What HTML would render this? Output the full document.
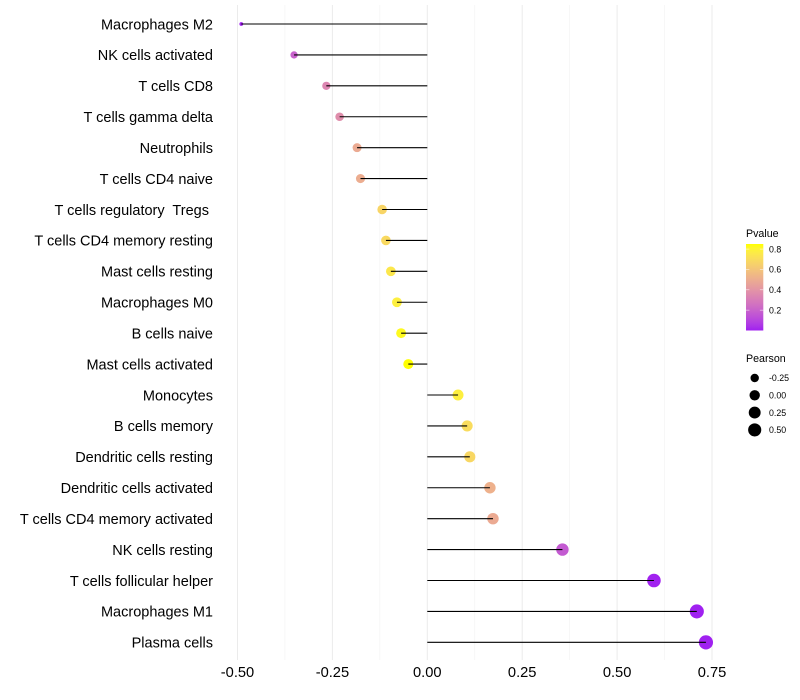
<!DOCTYPE html>
<html>
<head>
<meta charset="utf-8">
<style>
html,body{margin:0;padding:0;background:#fff;}
svg{display:block;font-family:"Liberation Sans",Arial,sans-serif;}
</style>
</head>
<body>
<svg id="chart" width="800" height="700" viewBox="0 0 800 700" xmlns="http://www.w3.org/2000/svg"></svg>
<script>
const categories = ["Macrophages M2","NK cells activated","T cells CD8","T cells gamma delta","Neutrophils","T cells CD4 naive","T cells regulatory  Tregs ","T cells CD4 memory resting","Mast cells resting","Macrophages M0","B cells naive","Mast cells activated","Monocytes","B cells memory","Dendritic cells resting","Dendritic cells activated","T cells CD4 memory activated","NK cells resting","T cells follicular helper","Macrophages M1","Plasma cells"];
const pearson = [-0.49,-0.351,-0.266,-0.231,-0.185,-0.176,-0.119,-0.109,-0.096,-0.08,-0.069,-0.05,0.081,0.105,0.112,0.165,0.173,0.356,0.597,0.71,0.734];
const pvalue = [0.001,0.2,0.34,0.37,0.49,0.5,0.67,0.69,0.75,0.78,0.83,0.85,0.78,0.7,0.68,0.52,0.49,0.17,0.004,0.001,0.001];
const xTicks = [-0.5,-0.25,0,0.25,0.5,0.75];
const xTickLabels = ["-0.50","-0.25","0.00","0.25","0.50","0.75"];
const xMinorTicks = [-0.375,-0.125,0.125,0.375,0.625];
const pvalueBreaks = [0.2,0.4,0.6,0.8];
const pvalueBreakLabels = ["0.2","0.4","0.6","0.8"];
const pearsonBreaks = [-0.25,0,0.25,0.5];
const pearsonBreakLabels = ["-0.25","0.00","0.25","0.50"];

const svg = document.getElementById('chart');
const NS = 'http://www.w3.org/2000/svg';
function mk(tag, attrs, txt) {
  const e = document.createElementNS(NS, tag);
  for (const k in attrs) e.setAttribute(k, attrs[k]);
  if (txt !== undefined) { e.textContent = txt; e.setAttribute('xml:space', 'preserve'); e.style.whiteSpace = 'pre'; }
  svg.appendChild(e);
  return e;
}

/* axis functions */
const X0 = 427.3, XK = 379.6;
const xScale = v => X0 + XK * v;
const Y0 = 24, YSTEP = 30.917;
const yScale = i => Y0 + YSTEP * i;
const sizeMin = Math.min(...pearson), sizeMax = Math.max(...pearson);
const rScale = v => 1.9 + 5.2 * Math.sqrt(Math.max(0, (v - sizeMin) / (sizeMax - sizeMin)));

/* colour scale: purple -> yellow, interpolated in Lab */
const pMax = 0.85;
function srgbToLab(c) {
  const l = c.map(v => { v /= 255; return v > 0.04045 ? Math.pow((v + 0.055) / 1.055, 2.4) : v / 12.92; });
  const X = (0.4124 * l[0] + 0.3576 * l[1] + 0.1805 * l[2]) / 0.95047;
  const Y = 0.2126 * l[0] + 0.7152 * l[1] + 0.0722 * l[2];
  const Z = (0.0193 * l[0] + 0.1192 * l[1] + 0.9505 * l[2]) / 1.08883;
  const f = t => t > 0.008856 ? Math.cbrt(t) : 7.787 * t + 16 / 116;
  return [116 * f(Y) - 16, 500 * (f(X) - f(Y)), 200 * (f(Y) - f(Z))];
}
function labToHex(lab) {
  const fy = (lab[0] + 16) / 116, fx = fy + lab[1] / 500, fz = fy - lab[2] / 200;
  const g = t => t * t * t > 0.008856 ? t * t * t : (t - 16 / 116) / 7.787;
  const X = g(fx) * 0.95047, Y = g(fy), Z = g(fz) * 1.08883;
  const rgb = [3.2406 * X - 1.5372 * Y - 0.4986 * Z, -0.9689 * X + 1.8758 * Y + 0.0415 * Z, 0.0557 * X - 0.204 * Y + 1.057 * Z];
  return '#' + rgb.map(v => {
    v = Math.min(1, Math.max(0, v));
    v = v > 0.0031308 ? 1.055 * Math.pow(v, 1 / 2.4) - 0.055 : 12.92 * v;
    return Math.round(v * 255).toString(16).padStart(2, '0');
  }).join('');
}
const labLow = srgbToLab([160, 32, 240]), labHigh = srgbToLab([255, 255, 0]);
function colorScale(p) {
  const t = Math.min(1, Math.max(0, p / pMax));
  return labToHex(labLow.map((v, i) => v + (labHigh[i] - v) * t));
}

/* grid */
xMinorTicks.forEach(v => {
  const g = mk('line', {x1: xScale(v), x2: xScale(v), y1: 5, y2: 660, stroke: '#f2f2f2', 'stroke-width': 0.6});
  
  
});
xTicks.forEach(v => {
  const g = mk('line', {x1: xScale(v), x2: xScale(v), y1: 5, y2: 660, stroke: '#ebebeb', 'stroke-width': 1});
  
  
});

/* points first, segments on top */
categories.forEach((c, i) => {
  const d = mk('circle', {cx: xScale(pearson[i]), cy: yScale(i), r: rScale(pearson[i]), fill: colorScale(pvalue[i])});
  
  
});
categories.forEach((c, i) => {
  const s = mk('line', {x1: X0, x2: xScale(pearson[i]), y1: yScale(i), y2: yScale(i), stroke: '#000', 'stroke-width': 1.07});
  
  
});

/* category labels */
categories.forEach((c, i) => {
  const t = mk('text', {x: 213, y: yScale(i) + 5.3, 'text-anchor': 'end', 'font-size': 14.5, fill: '#000'}, c);
  
  
});

/* x tick labels */
xTicks.forEach((v, i) => {
  const t = mk('text', {x: xScale(v), y: 677, 'text-anchor': 'middle', 'font-size': 14.67, fill: '#000'}, xTickLabels[i]);
  
  
});

/* colour legend */
const barX = 746, barW = 17.3, barTop = 244, barBottom = 330.5;
const pY = p => barBottom - (p / pMax) * (barBottom - barTop);
const pvTitle = mk('text', {x: 746, y: 237, 'font-size': 10.67, fill: '#000'}, 'Pvalue');


const defs = mk('defs', {});
const grad = document.createElementNS(NS, 'linearGradient');
grad.setAttribute('id', 'pg');
grad.setAttribute('x1', '0'); grad.setAttribute('x2', '0'); grad.setAttribute('y1', '1'); grad.setAttribute('y2', '0');
for (let k = 0; k <= 20; k++) {
  const st = document.createElementNS(NS, 'stop');
  st.setAttribute('offset', k / 20);
  st.setAttribute('stop-color', colorScale(pMax * k / 20));
  grad.appendChild(st);
}
defs.appendChild(grad);
const bar = mk('rect', {x: barX, y: barTop, width: barW, height: barBottom - barTop, fill: 'url(#pg)'});


pvalueBreaks.forEach((p, i) => {
  const y = pY(p);
  const a = mk('line', {x1: barX, x2: barX + 3.4, y1: y, y2: y, stroke: '#fff', 'stroke-width': 0.6, 'stroke-opacity': 0.8});
  
  
  const b = mk('line', {x1: barX + barW - 3.4, x2: barX + barW, y1: y, y2: y, stroke: '#fff', 'stroke-width': 0.6, 'stroke-opacity': 0.8});
  
  
  const t = mk('text', {x: 769, y: y + 3.2, 'font-size': 8.8, fill: '#000'}, pvalueBreakLabels[i]);
  
  
});

/* size legend */
const peTitle = mk('text', {x: 746, y: 362, 'font-size': 10.67, fill: '#000'}, 'Pearson');


pearsonBreaks.forEach((v, i) => {
  const y = 378 + i * 17.3;
  const d = mk('circle', {cx: 754.7, cy: y, r: rScale(v), fill: '#000'});
  
  
  const t = mk('text', {x: 769, y: y + 3.2, 'font-size': 8.8, fill: '#000'}, pearsonBreakLabels[i]);
  
  
});
</script>
</body>
</html>
